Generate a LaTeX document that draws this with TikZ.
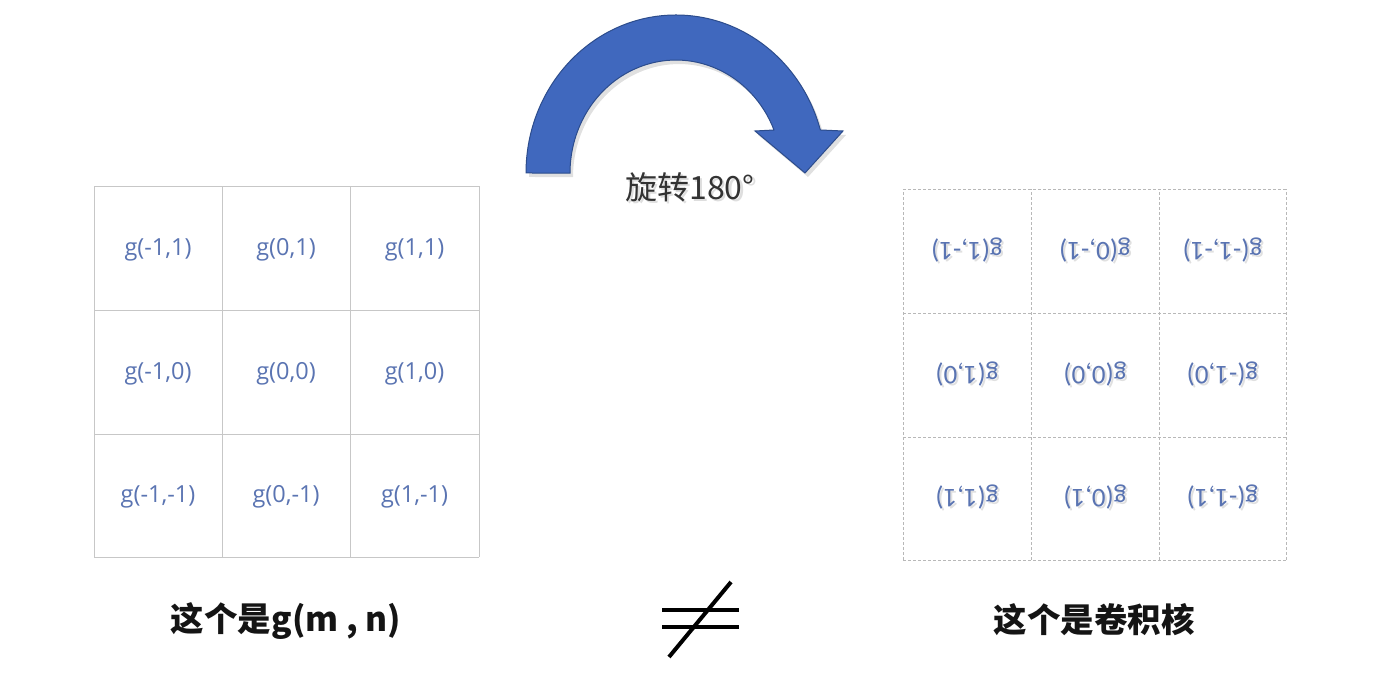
\documentclass[tikz,border=0pt]{standalone}
\usepackage{fontspec}
\setmainfont{Carlito}
\newfontfamily\cjkfont{Noto Sans CJK SC}
\newfontfamily\calfont{Carlito}
\newfontfamily\opfont{Open Sans}
\definecolor{gtext}{RGB}{90,116,178}
\definecolor{arrowblue}{RGB}{64,104,190}
\definecolor{arrowedge}{RGB}{44,76,140}
\tikzset{
  gridl/.style={draw=black!22, line width=0.9pt},
  gridd/.style={draw=black!28, line width=0.8pt, dash pattern=on 3pt off 2pt},
  ltxt/.style={text=gtext, font=\opfont\fontsize{23.5}{28}\selectfont, inner sep=0pt},
  rtxt/.style={text=gtext, font=\calfont\fontsize{27}{32}\selectfont, inner sep=0pt, rotate=180},
  rshadow/.style={text=black, text opacity=0.12, font=\calfont\fontsize{27}{32}\selectfont, inner sep=0pt, rotate=180},
  label/.style={text=black!92, font=\cjkfont\bfseries\fontsize{33.5}{40}\selectfont, inner sep=0pt},
  neq/.style={draw=black, line width=4.5pt},
}
\begin{document}
\begin{tikzpicture}[x=1pt,y=1pt]
\useasboundingbox[fill=white] (0,0) rectangle (1394,674);

% ---- left grid ----
\foreach \x in {94,222,350,479} \draw[gridl] (\x,117) -- (\x,488);
\foreach \y in {117,240,364,488} \draw[gridl] (94,\y) -- (479,\y);
\node[ltxt] (l11) at (158,424) {g(-1,1)};
\node[ltxt] (l12) at (286,424) {g(0,1)};
\node[ltxt] (l13) at (414.5,424) {g(1,1)};
\node[ltxt] (l21) at (158,300) {g(-1,0)};
\node[ltxt] (l22) at (286,300) {g(0,0)};
\node[ltxt] (l23) at (414.5,300) {g(1,0)};
\node[ltxt] (l31) at (158,177) {g(-1,-1)};
\node[ltxt] (l32) at (286,177) {g(0,-1)};
\node[ltxt] (l33) at (414.5,177) {g(1,-1)};

% ---- right grid ----
\foreach \x in {903,1031,1159,1286} \draw[gridd] (\x,114) -- (\x,485);
\foreach \y in {114,237,361,485} \draw[gridd] (903,\y) -- (1286,\y);
\foreach \x/\y/\t in {967/424/{g(1,-1)},1095/424/{g(0,-1)},1222.5/424/{g(-1,-1)},
                      967/300/{g(1,0)},1095/300/{g(0,0)},1222.5/300/{g(-1,0)},
                      967/177/{g(1,1)},1095/177/{g(0,1)},1222.5/177/{g(-1,1)}}
  \node[rshadow] at (\x+2,\y-2.5) {\t};
\node[rtxt] (r11) at (967,424) {g(1,-1)};
\node[rtxt] (r12) at (1095,424) {g(0,-1)};
\node[rtxt] (r13) at (1222.5,424) {g(-1,-1)};
\node[rtxt] (r21) at (967,300) {g(1,0)};
\node[rtxt] (r22) at (1095,300) {g(0,0)};
\node[rtxt] (r23) at (1222.5,300) {g(-1,0)};
\node[rtxt] (r31) at (967,177) {g(1,1)};
\node[rtxt] (r32) at (1095,177) {g(0,1)};
\node[rtxt] (r33) at (1222.5,177) {g(-1,1)};

% ---- curved arrow ----
\fill[black, opacity=0.12] (529,497) arc[start angle=180,end angle=15.8,x radius=150,y radius=158]
  -- (846,539) -- (808,497) -- (758,539) -- (777,540)
  arc[start angle=22.4,end angle=180,x radius=106,y radius=113] -- cycle;
\filldraw[fill=arrowblue, draw=arrowedge, line width=1pt, line join=miter]
  (526,501) arc[start angle=180,end angle=15.8,x radius=150,y radius=158]
  -- (843,543) -- (805,501) -- (755,543) -- (774,544)
  arc[start angle=22.4,end angle=180,x radius=106,y radius=113] -- cycle;
\node[text=black, text opacity=0.13, font=\cjkfont\fontsize{32}{38}\selectfont, inner sep=0pt] at (692.5,484.5) {旋转180°};
\node[text=black!80, font=\cjkfont\fontsize{32}{38}\selectfont, inner sep=0pt] (rot) at (690,487) {旋转180°};

% ---- bottom labels ----
\node[label] (lab1) at (286,53) {这个是g(m , n)};
\node[label] (lab2) at (1094,54) {这个是卷积核};

% ---- not-equal sign ----
\draw[neq] (662,64) -- (739,64);
\draw[neq] (662,47) -- (739,47);
\draw[draw=black, line width=4pt] (669,17) -- (731,92);
\end{tikzpicture}
\end{document}
